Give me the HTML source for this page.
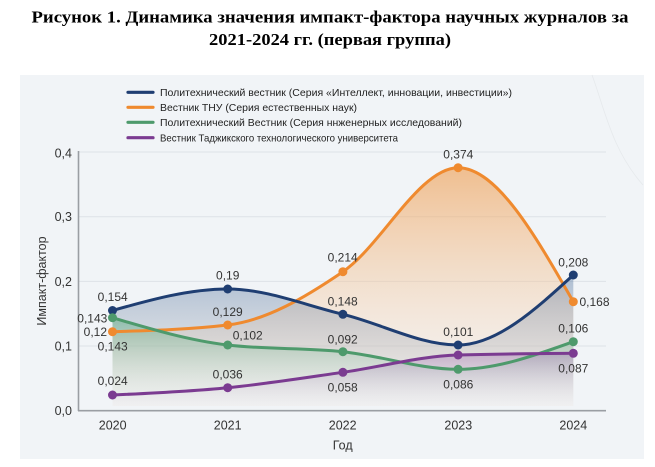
<!DOCTYPE html>
<html><head><meta charset="utf-8"><style>
html,body{margin:0;padding:0;background:#fff;}
svg{display:block;}
text{font-family:"Liberation Sans",sans-serif;fill:#2a2a2a;}
.t{font-family:"Liberation Serif",serif;font-weight:bold;font-size:17px;fill:#000;}
.lg{font-size:10.3px;fill:#222;}
.dl{font-size:12px;fill:#333;}
.tk{font-size:12.5px;fill:#333;}
</style></head><body>
<svg width="655" height="467" viewBox="0 0 655 467" xmlns="http://www.w3.org/2000/svg">
<defs>
<linearGradient id="gO" x1="0" y1="0" x2="0" y2="1">
<stop offset="0" stop-color="#ef9a4a" stop-opacity="0.6"/>
<stop offset="1" stop-color="#fbefe3" stop-opacity="0.2"/>
</linearGradient>
<linearGradient id="gB" x1="0" y1="0" x2="0" y2="1">
<stop offset="0" stop-color="#3f6596" stop-opacity="0.38"/>
<stop offset="0.6" stop-color="#a9adb6" stop-opacity="0.28"/>
<stop offset="1" stop-color="#d5d8de" stop-opacity="0.1"/>
</linearGradient>
<linearGradient id="gG" x1="0" y1="0" x2="0" y2="1">
<stop offset="0" stop-color="#3f9e67" stop-opacity="0.42"/>
<stop offset="1" stop-color="#eef7f1" stop-opacity="0.1"/>
</linearGradient>
<linearGradient id="gP" x1="0" y1="0" x2="0" y2="1">
<stop offset="0" stop-color="#8a4da3" stop-opacity="0.3"/>
<stop offset="1" stop-color="#f0eaf3" stop-opacity="0.1"/>
</linearGradient>
</defs>

<!-- Title -->
<text class="t" x="330" y="22.5" text-anchor="middle" textLength="597" lengthAdjust="spacingAndGlyphs">Рисунок 1. Динамика значения импакт-фактора научных журналов за</text>
<text class="t" x="330" y="45" text-anchor="middle" textLength="242" lengthAdjust="spacingAndGlyphs">2021-2024 гг. (первая группа)</text>

<!-- panel -->
<rect x="20" y="75" width="624" height="384" fill="#f1f4f7"/>
<path d="M592,75 C605,110 612,150 643,185" fill="none" stroke="#e6e9ec" stroke-width="0.8"/>

<!-- legend -->
<g stroke-width="3.2" stroke-linecap="round">
<line x1="128" y1="92.3" x2="153" y2="92.3" stroke="#1f3e72"/>
<line x1="128" y1="107.3" x2="153" y2="107.3" stroke="#ef8a2f"/>
<line x1="128" y1="122.3" x2="153" y2="122.3" stroke="#4e9a6c"/>
<line x1="128" y1="137.7" x2="153" y2="137.7" stroke="#7b3b91"/>
</g>
<text class="lg" x="160" y="96" textLength="352" lengthAdjust="spacingAndGlyphs">Политехнический вестник (Серия «Интеллект, инновации, инвестиции»)</text>
<text class="lg" x="160" y="111" textLength="197" lengthAdjust="spacingAndGlyphs">Вестник ТНУ (Серия естественных наук)</text>
<text class="lg" x="160" y="126" textLength="302" lengthAdjust="spacingAndGlyphs">Политехнический Вестник (Серия ннженерных исследований)</text>
<text class="lg" x="160" y="141.4" textLength="238" lengthAdjust="spacingAndGlyphs">Вестник Таджикского технологического университета</text>

<!-- grid -->
<g stroke="#dde2e7" stroke-width="1">
<line x1="79" y1="152" x2="606" y2="152"/>
<line x1="79" y1="216.7" x2="606" y2="216.7"/>
<line x1="79" y1="281.4" x2="606" y2="281.4"/>
<line x1="79" y1="346" x2="606" y2="346"/>
</g>

<!-- fills -->
<path fill="url(#gO)" d="M112.5,331.7 C150.9,330.6 189.3,329.5 227.7,325 C266.1,320.5 304.5,297.9 342.9,271.7 C381.3,245.5 419.7,167.7 458.1,167.7 C496.5,167.7 534.9,234.7 573.3,301.7 L573.3,406 L112.5,406 Z"/>
<path fill="url(#gB)" d="M112.5,310.5 C150.9,299.75 189.3,289 227.7,289 C266.1,289 304.5,305 342.9,314.3 C381.3,323.6 419.7,345 458.1,345 C496.5,345 534.9,310 573.3,275 L573.3,406 L112.5,406 Z"/>
<path fill="url(#gG)" d="M112.5,317.7 C150.9,329.1 189.3,340.5 227.7,345 C266.1,349.5 304.5,347.7 342.9,351.7 C381.3,355.7 419.7,369.3 458.1,369.3 C496.5,369.3 534.9,355.5 573.3,341.7 L573.3,406 L112.5,406 Z"/>
<path fill="url(#gP)" d="M112.5,395 C150.9,393.2 189.3,391.5 227.7,387.7 C266.1,383.9 304.5,377.8 342.9,372.3 C381.3,366.8 419.7,356.1 458.1,355 C496.5,353.9 534.9,353.6 573.3,353.3 L573.3,406 L112.5,406 Z"/>

<!-- axes -->
<g stroke="#9a9ea3" stroke-width="1.6" fill="none">
<line x1="78.5" y1="151" x2="78.5" y2="411"/>
<line x1="78" y1="410.7" x2="606" y2="410.7"/>
</g>

<!-- lines -->
<g fill="none" stroke-width="3" stroke-linecap="round" stroke-linejoin="round">
<path stroke="#ef8a2f" d="M112.5,331.7 C150.9,330.6 189.3,329.5 227.7,325 C266.1,320.5 304.5,297.9 342.9,271.7 C381.3,245.5 419.7,167.7 458.1,167.7 C496.5,167.7 534.9,234.7 573.3,301.7"/>
<path stroke="#1f3e72" d="M112.5,310.5 C150.9,299.75 189.3,289 227.7,289 C266.1,289 304.5,305 342.9,314.3 C381.3,323.6 419.7,345 458.1,345 C496.5,345 534.9,310 573.3,275"/>
<path stroke="#4e9a6c" d="M112.5,317.7 C150.9,329.1 189.3,340.5 227.7,345 C266.1,349.5 304.5,347.7 342.9,351.7 C381.3,355.7 419.7,369.3 458.1,369.3 C496.5,369.3 534.9,355.5 573.3,341.7"/>
<path stroke="#7b3b91" d="M112.5,395 C150.9,393.2 189.3,391.5 227.7,387.7 C266.1,383.9 304.5,377.8 342.9,372.3 C381.3,366.8 419.7,356.1 458.1,355 C496.5,353.9 534.9,353.6 573.3,353.3"/>
</g>

<!-- dots -->
<g fill="#ef8a2f">
<circle cx="112.5" cy="331.7" r="4.5"/><circle cx="227.7" cy="325" r="4.5"/><circle cx="342.9" cy="271.7" r="4.5"/><circle cx="458.1" cy="167.7" r="4.5"/><circle cx="573.3" cy="301.7" r="4.5"/>
</g>
<g fill="#1f3e72">
<circle cx="112.5" cy="310.5" r="4.5"/><circle cx="227.7" cy="289" r="4.5"/><circle cx="342.9" cy="314.3" r="4.5"/><circle cx="458.1" cy="345" r="4.5"/><circle cx="573.3" cy="275" r="4.5"/>
</g>
<g fill="#4e9a6c">
<circle cx="112.5" cy="317.7" r="4.5"/><circle cx="227.7" cy="345" r="4.5"/><circle cx="342.9" cy="351.7" r="4.5"/><circle cx="458.1" cy="369.3" r="4.5"/><circle cx="573.3" cy="341.7" r="4.5"/>
</g>
<g fill="#7b3b91">
<circle cx="112.5" cy="395" r="4.5"/><circle cx="227.7" cy="387.7" r="4.5"/><circle cx="342.9" cy="372.3" r="4.5"/><circle cx="458.1" cy="355" r="4.5"/><circle cx="573.3" cy="353.3" r="4.5"/>
</g>

<!-- data labels -->
<g class="dl" text-anchor="middle">
<text class="dl" x="112.7" y="301">0,154</text>
<text class="dl" x="227.7" y="279.5">0,19</text>
<text class="dl" x="342.7" y="305.5">0,148</text>
<text class="dl" x="458.3" y="336">0,101</text>
<text class="dl" x="573.3" y="266.5">0,208</text>
<text class="dl" x="227.7" y="316">0,129</text>
<text class="dl" x="342.7" y="261.5">0,214</text>
<text class="dl" x="458.3" y="158.5">0,374</text>
<text class="dl" x="342.7" y="343.5">0,092</text>
<text class="dl" x="458.3" y="388.5">0,086</text>
<text class="dl" x="573.3" y="332.5">0,106</text>
<text class="dl" x="112.7" y="350.5">0,143</text>
<text class="dl" x="112.7" y="385">0,024</text>
<text class="dl" x="227.7" y="378.5">0,036</text>
<text class="dl" x="342.7" y="391.5">0,058</text>
<text class="dl" x="573.3" y="372.5">0,087</text>
</g>
<text class="dl" x="107" y="336" text-anchor="end">0,12</text>
<text class="dl" x="107.3" y="322.5" text-anchor="end">0,143</text>
<text class="dl" x="579.5" y="306">0,168</text>
<text class="dl" x="232.7" y="339.5">0,102</text>

<!-- y ticks -->
<g text-anchor="end">
<text class="tk" x="72" y="157.5">0,4</text>
<text class="tk" x="72" y="221.2">0,3</text>
<text class="tk" x="72" y="286">0,2</text>
<text class="tk" x="72" y="350.5">0,1</text>
<text class="tk" x="72" y="415.2">0,0</text>
</g>
<!-- x ticks -->
<g text-anchor="middle">
<text class="tk" x="112.7" y="429.5">2020</text>
<text class="tk" x="227.7" y="429.5">2021</text>
<text class="tk" x="342.7" y="429.5">2022</text>
<text class="tk" x="458.3" y="429.5">2023</text>
<text class="tk" x="573.3" y="429.5">2024</text>
<text class="tk" x="342.7" y="449.5">Год</text>
</g>
<text class="tk" text-anchor="middle" transform="translate(46,281) rotate(-90)">Импакт-фактор</text>
</svg>
</body></html>
